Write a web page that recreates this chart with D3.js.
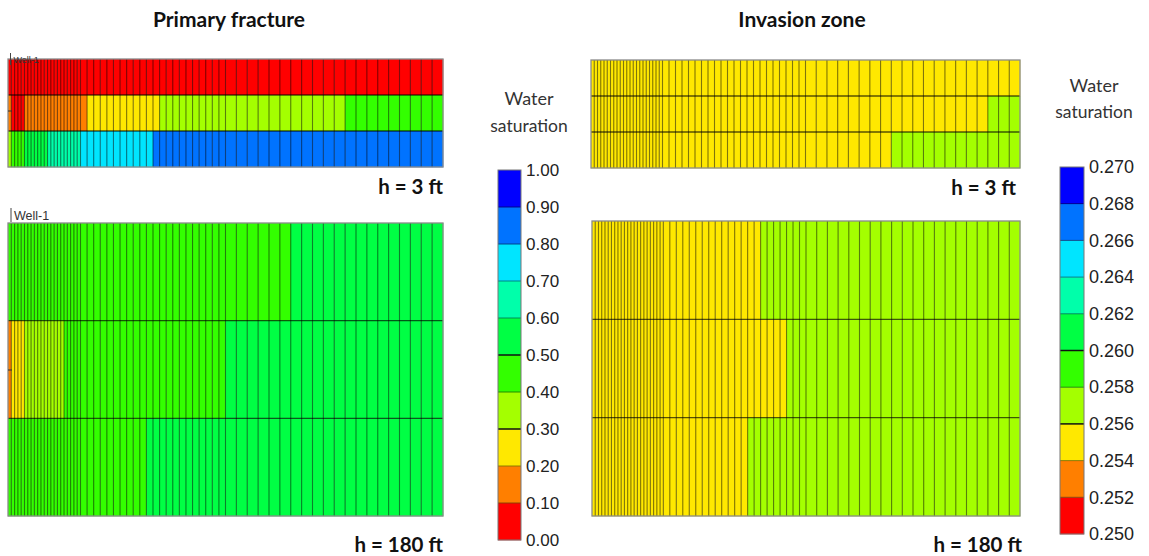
<!DOCTYPE html>
<html>
<head>
<meta charset="utf-8">
<script src="https://cdn.jsdelivr.net/npm/d3@7"></script>
<style>
  html, body { margin: 0; padding: 0; background: #fff; }
  svg { display: block; }
</style>
</head>
<body>
<svg id="chart" width="1149" height="556"></svg>
<script>
// Grid column widths (grid units), refined near the well on the left
const cellWidths = [
  1,1,1,1,1,1,1,1,1,1,1,1,1,1,1,1,1,1,1,1,1,1,
  2,2,2,2,2,2,2,2,2,2,2,2,2,2,2,2,2,2,2,2,2,2,
  3.3,3.3,3.3,3.3,3.3,3.3,3.3,3.3,3.3,3.3,3.3,3.3,3.3,3.3,3.3,3.3,3.3,3.3,3.3,3.3
];

// Water saturation per layer, as runs of [value, number of columns]
const primaryTop = [
  [[0.05, 64]],
  [[0.15, 1], [0.05, 4], [0.15, 18], [0.25, 11], [0.35, 21], [0.45, 9]],
  [[0.35, 1], [0.45, 4], [0.55, 7], [0.65, 10], [0.75, 11], [0.85, 31]]
];
const primaryBottom = [
  [[0.45, 50], [0.55, 14]],
  [[0.15, 1], [0.25, 4], [0.35, 12], [0.45, 27], [0.55, 20]],
  [[0.45, 32], [0.55, 32]]
];
const invasionTop = [
  [[0.255, 64]],
  [[0.255, 61], [0.257, 3]],
  [[0.255, 52], [0.257, 12]]
];
const invasionBottom = [
  [[0.255, 37], [0.257, 27]],
  [[0.255, 41], [0.257, 23]],
  [[0.255, 35], [0.257, 29]]
];

// Colour legend classes (low to high) and tick labels
const palette = ["#ff0000", "#ff7f00", "#ffe800", "#a4ff00", "#33ff00",
                 "#00ff44", "#00ffaa", "#00e5ff", "#0073ff", "#0000ff"];
const primaryTicks = ["0.00","0.10","0.20","0.30","0.40","0.50","0.60","0.70","0.80","0.90","1.00"];
const invasionTicks = ["0.250","0.252","0.254","0.256","0.258","0.260","0.262","0.264","0.266","0.268","0.270"];

const svg = d3.select("#chart");
const primaryColor = d3.scaleQuantize().domain([0, 1]).range(palette);
const invasionColor = d3.scaleQuantize().domain([0.25, 0.27]).range(palette);

const edges = [0, ...d3.cumsum(cellWidths)];
const totalWidth = edges[edges.length - 1];

function expand(runs) {
  const out = [];
  runs.forEach(([v, n]) => { for (let i = 0; i < n; i++) out.push(v); });
  return out;
}

function drawGrid(rows, color, x0, x1, y0, y1) {
  const x = d3.scaleLinear().domain([0, totalWidth]).range([x0, x1]);
  const y = d3.scaleLinear().domain([0, rows.length]).range([y0, y1]);
  const g = svg.append("g");
  const cells = [];
  rows.forEach((runs, r) => {
    expand(runs).forEach((v, c) => cells.push({ r, c, v }));
  });
  g.selectAll("rect.cell").data(cells).join("rect")
    .attr("class", "cell")
    .attr("x", d => x(edges[d.c]))
    .attr("y", d => y(d.r))
    .attr("width", d => x(edges[d.c + 1]) - x(edges[d.c]) + 0.3)
    .attr("height", d => y(d.r + 1) - y(d.r) + 0.3)
    .attr("fill", d => color(d.v));
  // column lines
  g.selectAll("line.col").data(edges.slice(1, -1)).join("line")
    .attr("class", "col")
    .attr("x1", d => x(d)).attr("x2", d => x(d))
    .attr("y1", y0).attr("y2", y1)
    .attr("stroke", "rgba(0,0,0,0.5)").attr("stroke-width", 1.1);
  // layer lines
  g.selectAll("line.row").data(d3.range(1, rows.length)).join("line")
    .attr("class", "row")
    .attr("x1", x0).attr("x2", x1)
    .attr("y1", d => y(d)).attr("y2", d => y(d))
    .attr("stroke", "rgba(0,0,0,0.65)").attr("stroke-width", 1.3);
  g.append("rect")
    .attr("x", x0).attr("y", y0).attr("width", x1 - x0).attr("height", y1 - y0)
    .attr("fill", "none").attr("stroke", "#8a8a8a").attr("stroke-width", 1.3);
  return { x, y };
}

drawGrid(primaryTop, primaryColor, 8, 443, 59, 167);
drawGrid(primaryBottom, primaryColor, 8, 443, 223, 516);
drawGrid(invasionTop, invasionColor, 591, 1020, 60, 168);
drawGrid(invasionBottom, invasionColor, 592, 1020, 221, 516);

// Well markers
function well(xp, yTop, yBot, size) {
  svg.append("line").attr("x1", xp).attr("x2", xp).attr("y1", yTop).attr("y2", yBot)
    .attr("stroke", "#444").attr("stroke-width", 1);
  svg.append("text").attr("x", xp + 3).attr("y", yBot - 2)
    .attr("font-family", "Liberation Sans, Arial, sans-serif")
    .attr("font-size", size).attr("fill", "#333").text("Well-1");
}
well(10.5, 53, 65, 9);
well(11, 208, 222, 12.5);
svg.append("line").attr("x1", 8).attr("x2", 12).attr("y1", 111).attr("y2", 111).attr("stroke", "#333");
svg.append("line").attr("x1", 8).attr("x2", 12).attr("y1", 370).attr("y2", 370).attr("stroke", "#333");

// Colour legends
function legend(ticks, x0, x1, yTop, yBot, fontSize) {
  const y = d3.scaleLinear().domain([0, ticks.length - 1]).range([yBot, yTop]);
  const g = svg.append("g");
  g.selectAll("rect").data(palette).join("rect")
    .attr("x", x0).attr("width", x1 - x0)
    .attr("y", (d, i) => y(i + 1)).attr("height", (d, i) => y(i) - y(i + 1) + 0.3)
    .attr("fill", d => d);
  g.selectAll("line").data(d3.range(1, ticks.length - 1)).join("line")
    .attr("x1", x0).attr("x2", x1)
    .attr("y1", d => y(d)).attr("y2", d => y(d))
    .attr("stroke", d => (d === 3 || d === 5) ? "#111" : "rgba(0,0,0,0.45)")
    .attr("stroke-width", d => (d === 3 || d === 5) ? 1.5 : 1);
  g.append("rect").attr("x", x0).attr("y", yTop).attr("width", x1 - x0).attr("height", yBot - yTop)
    .attr("fill", "none").attr("stroke", "#777").attr("stroke-width", 1);
  const axis = d3.axisRight(y).tickValues(d3.range(ticks.length))
    .tickFormat(i => ticks[i]).tickSize(0).tickPadding(5);
  const ax = svg.append("g").attr("transform", `translate(${x1},0)`).call(axis);
  ax.select(".domain").remove();
  ax.selectAll("text")
    .attr("font-family", "Liberation Sans, Arial, sans-serif")
    .attr("font-size", fontSize).attr("fill", "#222");
}
legend(primaryTicks, 498, 521, 170, 540, 17);
legend(invasionTicks, 1060, 1084, 167, 534, 18);

// Text
const labelFont = "Lato, 'Open Sans', sans-serif";
function text(str, xp, yp, opts) {
  svg.append("text").attr("x", xp).attr("y", yp)
    .attr("font-family", labelFont)
    .attr("font-size", opts.size)
    .attr("font-weight", opts.weight || "normal")
    .attr("text-anchor", opts.anchor || "middle")
    .attr("fill", opts.fill || "#111")
    .text(str);
}
text("Primary fracture", 229, 27, { size: 21, weight: "bold" });
text("Invasion zone", 802, 27, { size: 21, weight: "bold" });
text("h = 3 ft", 443, 194, { size: 20.5, weight: "bold", anchor: "end" });
text("h = 180 ft", 443, 552, { size: 20.5, weight: "bold", anchor: "end" });
text("h = 3 ft", 1016, 195, { size: 20.5, weight: "bold", anchor: "end" });
text("h = 180 ft", 1022, 552, { size: 20.5, weight: "bold", anchor: "end" });
text("Water", 529, 105, { size: 18, fill: "#333" });
text("saturation", 529, 132, { size: 17.5, fill: "#333" });
text("Water", 1094, 92, { size: 18, fill: "#333" });
text("saturation", 1094, 118, { size: 17.5, fill: "#333" });
</script>
</body>
</html>
